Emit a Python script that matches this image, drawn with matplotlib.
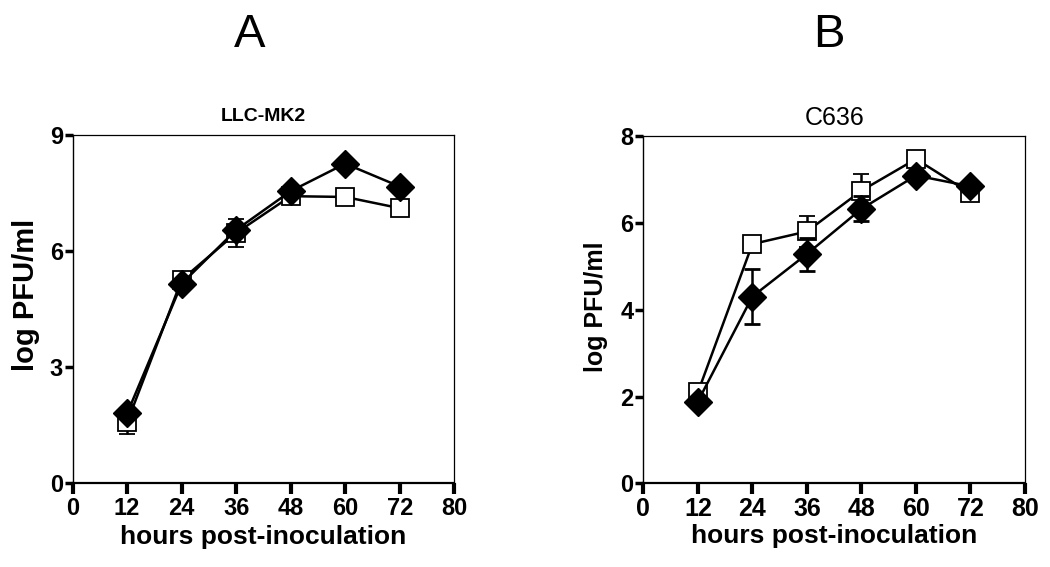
import matplotlib
matplotlib.use("Agg")
import matplotlib.pyplot as plt

plt.rcParams['font.family'] = ['Liberation Sans', 'DejaVu Sans']

# Data
hours = [12, 24, 36, 48, 60, 72]
x_ticks = [0, 12, 24, 36, 48, 60, 72, 84]
x_tick_labels = ["0", "12", "24", "36", "48", "60", "72", "80"]

# Panel A: LLC-MK2
llc_square = [1.58, 5.26, 6.47, 7.42, 7.40, 7.11]
llc_square_err = [0.30, 0.05, 0.36, 0.05, 0.05, 0.05]
llc_diamond = [1.81, 5.16, 6.55, 7.55, 8.26, 7.67]
llc_diamond_err = [0.05, 0.05, 0.05, 0.05, 0.05, 0.05]
llc_yticks = [0, 3, 6, 9]

# Panel B: C636
c6_square = [2.10, 5.52, 5.81, 6.75, 7.48, 6.69]
c6_square_err = [0.05, 0.05, 0.35, 0.39, 0.05, 0.05]
c6_diamond = [1.89, 4.31, 5.29, 6.33, 7.10, 6.85]
c6_diamond_err = [0.05, 0.64, 0.38, 0.29, 0.05, 0.05]
c6_yticks = [0, 2, 4, 6, 8]

fig = plt.figure(figsize=(10.5, 5.67), dpi=100)
axA = fig.add_axes([0.0692, 0.1473, 0.3634, 0.6146])
axB = fig.add_axes([0.6127, 0.1473, 0.3635, 0.6120])


def draw_panel(ax, sq, sq_err, dm, dm_err, yticks, xts, yts, yls, ylpos):
    ax.errorbar(hours, sq, yerr=sq_err, color="black", lw=1.8,
                marker="s", markersize=13, markerfacecolor="white",
                markeredgecolor="black", markeredgewidth=1.3,
                capsize=6, capthick=2, elinewidth=1.8, zorder=2)
    ax.errorbar(hours, dm, yerr=dm_err, color="black", lw=1.8,
                marker="D", markersize=14, markerfacecolor="black",
                markeredgecolor="black",
                capsize=6, capthick=2, elinewidth=1.8, zorder=3)
    ax.set_xlim(0, 84)
    ax.set_ylim(0, yticks[-1])
    ax.set_xticks(x_ticks)
    ax.set_xticklabels(x_tick_labels)
    ax.set_yticks(yticks)
    ax.tick_params(axis="x", length=8, width=3, labelsize=xts, pad=2)
    ax.tick_params(axis="y", length=6, width=2.5, labelsize=yts, pad=1)
    for lab in ax.get_xticklabels() + ax.get_yticklabels():
        lab.set_fontweight("bold")
    ax.spines["bottom"].set_linewidth(1.6)
    ax.spines["left"].set_linewidth(1.0)
    ax.spines["top"].set_linewidth(0.9)
    ax.spines["right"].set_linewidth(0.9)
    ax.set_xlabel("hours post-inoculation", fontsize=19, fontweight="bold")
    ax.xaxis.set_label_coords(0.5, -0.118)
    ax.set_ylabel("log PFU/ml", fontsize=yls, fontweight="bold", va="center")
    ax.yaxis.set_label_coords(*ylpos)


draw_panel(axA, llc_square, llc_square_err, llc_diamond, llc_diamond_err,
           llc_yticks, 17, 17, 21, (-0.122, 0.541))
draw_panel(axB, c6_square, c6_square_err, c6_diamond, c6_diamond_err,
           c6_yticks, 18, 17, 18, (-0.124, 0.51))

axA.set_title("LLC-MK2", fontsize=14, fontweight="bold", pad=10)
axB.set_title("C636", fontsize=18, pad=8)

fig.text(0.238, 0.938, "A", fontsize=34, ha="center", va="center")
fig.text(0.789, 0.938, "B", fontsize=34, ha="center", va="center")

fig.savefig("out.png", dpi=100)
